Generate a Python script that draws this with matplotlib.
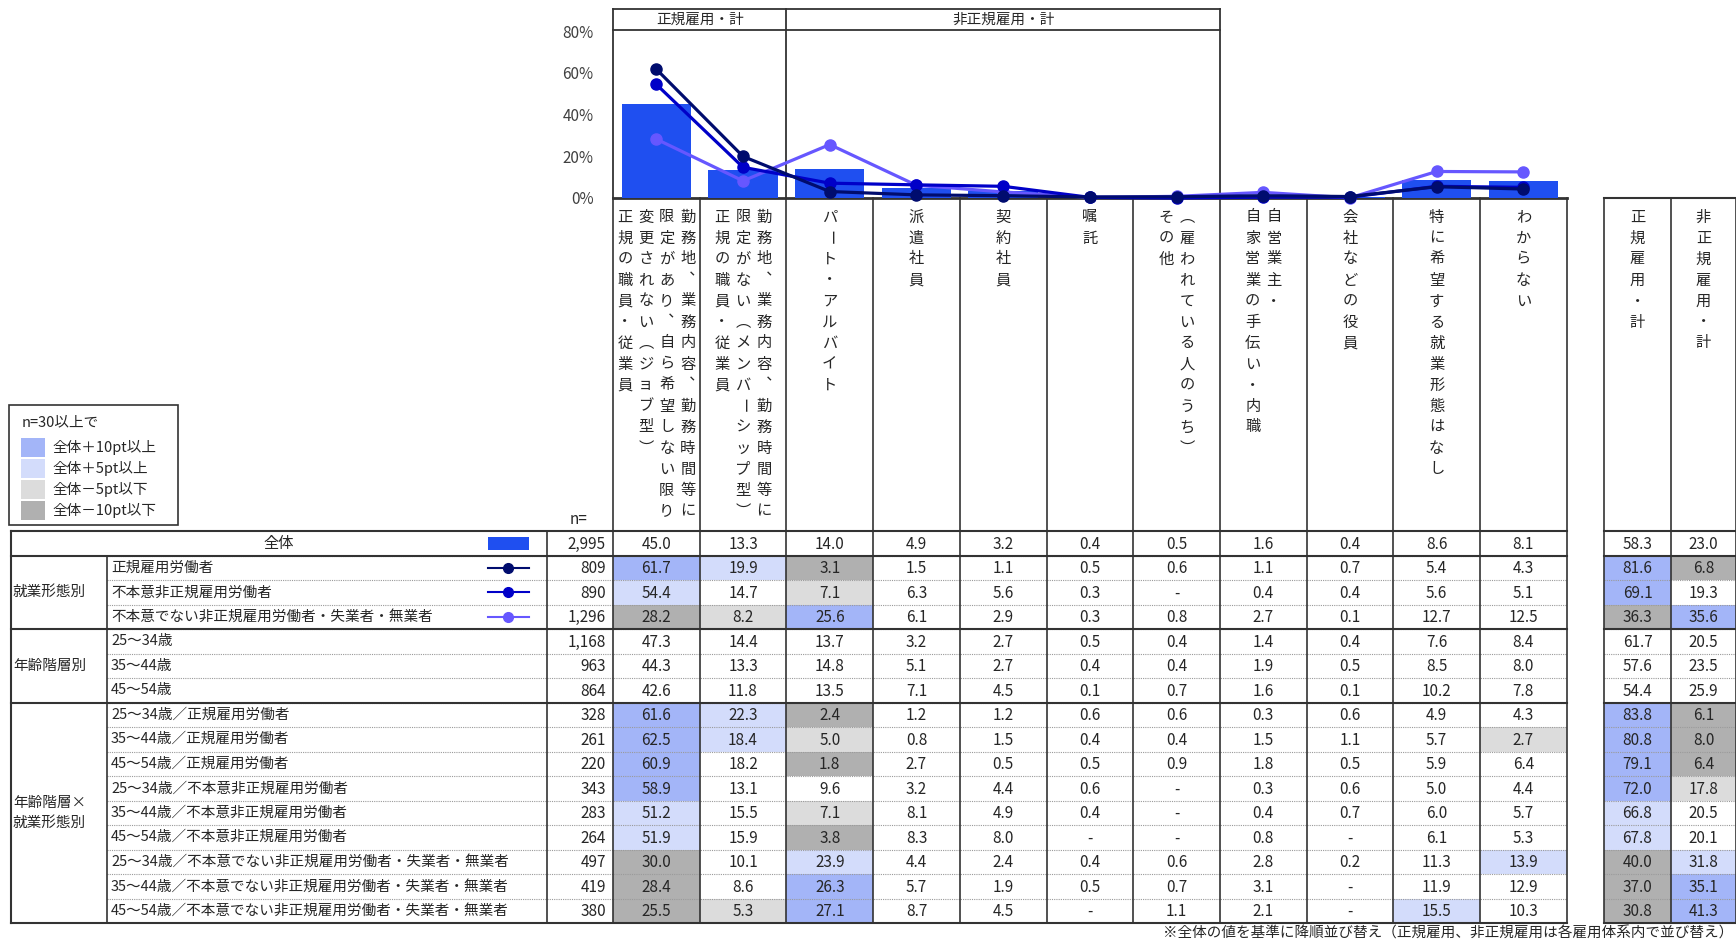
import numpy as np
import matplotlib
matplotlib.use("Agg")
import matplotlib.pyplot as plt
from matplotlib.patches import Rectangle

plt.rcParams["font.family"] = ["Noto Sans CJK JP", "DejaVu Sans"]

# column headers, each a list of vertical text lines (first = rightmost)
headers = [
    ["勤務地、業務内容、勤務時間等に", "限定があり、自ら希望しない限り", "変更されない（ジョブ型）", "正規の職員・従業員"],
    ["勤務地、業務内容、勤務時間等に", "限定がない（メンバーシップ型）", "正規の職員・従業員"],
    ["パート・アルバイト"],
    ["派遣社員"],
    ["契約社員"],
    ["嘱託"],
    ["（雇われている人のうち）", "その他"],
    ["自営業主・", "自家営業の手伝い・内職"],
    ["会社などの役員"],
    ["特に希望する就業形態はなし"],
    ["わからない"],
]
total_headers = [["正規雇用・計"], ["非正規雇用・計"]]

groups = [("就業形態別", 3), ("年齢階層別", 3), ("年齢階層×\n就業形態別", 9)]
row_labels = [
    "全体",
    "正規雇用労働者",
    "不本意非正規雇用労働者",
    "不本意でない非正規雇用労働者・失業者・無業者",
    "25～34歳",
    "35～44歳",
    "45～54歳",
    "25～34歳／正規雇用労働者",
    "35～44歳／正規雇用労働者",
    "45～54歳／正規雇用労働者",
    "25～34歳／不本意非正規雇用労働者",
    "35～44歳／不本意非正規雇用労働者",
    "45～54歳／不本意非正規雇用労働者",
    "25～34歳／不本意でない非正規雇用労働者・失業者・無業者",
    "35～44歳／不本意でない非正規雇用労働者・失業者・無業者",
    "45～54歳／不本意でない非正規雇用労働者・失業者・無業者",
]
n_values = [2995, 809, 890, 1296, 1168, 963, 864, 328, 261, 220, 343, 283, 264, 497, 419, 380]

# % values, 0 is shown as "-"
values = [
    [45.0, 13.3, 14.0, 4.9, 3.2, 0.4, 0.5, 1.6, 0.4, 8.6, 8.1],
    [61.7, 19.9, 3.1, 1.5, 1.1, 0.5, 0.6, 1.1, 0.7, 5.4, 4.3],
    [54.4, 14.7, 7.1, 6.3, 5.6, 0.3, 0.0, 0.4, 0.4, 5.6, 5.1],
    [28.2, 8.2, 25.6, 6.1, 2.9, 0.3, 0.8, 2.7, 0.1, 12.7, 12.5],
    [47.3, 14.4, 13.7, 3.2, 2.7, 0.5, 0.4, 1.4, 0.4, 7.6, 8.4],
    [44.3, 13.3, 14.8, 5.1, 2.7, 0.4, 0.4, 1.9, 0.5, 8.5, 8.0],
    [42.6, 11.8, 13.5, 7.1, 4.5, 0.1, 0.7, 1.6, 0.1, 10.2, 7.8],
    [61.6, 22.3, 2.4, 1.2, 1.2, 0.6, 0.6, 0.3, 0.6, 4.9, 4.3],
    [62.5, 18.4, 5.0, 0.8, 1.5, 0.4, 0.4, 1.5, 1.1, 5.7, 2.7],
    [60.9, 18.2, 1.8, 2.7, 0.5, 0.5, 0.9, 1.8, 0.5, 5.9, 6.4],
    [58.9, 13.1, 9.6, 3.2, 4.4, 0.6, 0.0, 0.3, 0.6, 5.0, 4.4],
    [51.2, 15.5, 7.1, 8.1, 4.9, 0.4, 0.0, 0.4, 0.7, 6.0, 5.7],
    [51.9, 15.9, 3.8, 8.3, 8.0, 0.0, 0.0, 0.8, 0.0, 6.1, 5.3],
    [30.0, 10.1, 23.9, 4.4, 2.4, 0.4, 0.6, 2.8, 0.2, 11.3, 13.9],
    [28.4, 8.6, 26.3, 5.7, 1.9, 0.5, 0.7, 3.1, 0.0, 11.9, 12.9],
    [25.5, 5.3, 27.1, 8.7, 4.5, 0.0, 1.1, 2.1, 0.0, 15.5, 10.3],
]
seiki_total = [58.3, 81.6, 69.1, 36.3, 61.7, 57.6, 54.4, 83.8, 80.8, 79.1, 72.0, 66.8, 67.8, 40.0, 37.0, 30.8]
hiseiki_total = [23.0, 6.8, 19.3, 35.6, 20.5, 23.5, 25.9, 6.1, 8.0, 6.4, 17.8, 20.5, 20.1, 31.8, 35.1, 41.3]

bar_color = "#1F4FF0"
line_colors = ["#000C6E", "#0000C8", "#6657FF"]  # rows 1..3
hl_colors = {10: "#A3B5F8", 5: "#D3DCFB", -5: "#DCDCDC", -10: "#B0B0B0"}
legend_items = [(10, "全体＋10pt以上"), (5, "全体＋5pt以上"), (-5, "全体－5pt以下"), (-10, "全体－10pt以下")]

# vertical presentation forms
vert_forms = {"（": "\ufe35", "）": "\ufe36", "、": "\ufe11"}

TXT = "#262626"
LINE = "#333333"
W, H = 1736, 942
fig = plt.figure(figsize=(W / 100, H / 100), dpi=100)

# overlay axes in pixel coordinates for the table
ov = fig.add_axes([0, 0, 1, 1])
ov.set_xlim(0, W)
ov.set_ylim(H, 0)
ov.axis("off")

X0, CW = 613, 86.7
ncols = len(headers)
XR = X0 + ncols * CW
RX = [1604, 1671, 1736]
T0, RH = 531, 24.5
nrows = len(row_labels)
TB = T0 + nrows * RH
CH_TOP, CH_BOT = 31, 198


def vtext(xc, y_top, lines, step=21, fs=11):
    nl = len(lines)
    xs = xc + (np.arange(nl)[::-1] - (nl - 1) / 2) * 21
    for line, x in zip(lines, xs):
        for k, ch in enumerate(line):
            y = y_top + k * step
            rot = -90 if ch in "ー～" else 0
            ov.text(x, y, vert_forms.get(ch, ch), ha="center", va="center", rotation=rot,
                    fontsize=fs, color=TXT)


# chart axes
ax = fig.add_axes([X0 / W, 1 - CH_BOT / H, (XR - X0) / W, (CH_BOT - CH_TOP) / H])
ax.patch.set_alpha(0)
xs = np.arange(ncols)
ax.bar(xs, values[0], width=0.8, color=bar_color, zorder=2)
for i in [2, 1, 0]:
    ax.plot(xs, values[i + 1], color=line_colors[i], lw=2.3, marker="o", ms=8,
            zorder=3 + (2 - i), clip_on=False)
ax.set_xlim(-0.5, ncols - 0.5)
ax.set_ylim(0, 80)
ax.set_yticks([0, 20, 40, 60, 80])
ax.set_yticklabels([f"{v}%" for v in [0, 20, 40, 60, 80]], fontsize=11, color="#404040")
ax.tick_params(axis="y", length=0, pad=14)
ax.set_xticks([])
for s in ax.spines.values():
    s.set_visible(False)

# header box above chart
ov.plot([X0, 1220], [9, 9], color=LINE, lw=1.3)
ov.plot([X0, 1220], [30, 30], color=LINE, lw=1.3)
for x in [X0, X0 + 2 * CW, X0 + 7 * CW]:
    ov.plot([x, x], [9, CH_BOT], color=LINE, lw=1.3)
ov.text((X0 + X0 + 2 * CW) / 2, 20, "正規雇用・計", ha="center", va="center", fontsize=10.5, color=TXT)
ov.text((X0 + 2 * CW + X0 + 7 * CW) / 2, 20, "非正規雇用・計", ha="center", va="center", fontsize=10.5, color=TXT)
ov.plot([X0, XR], [CH_BOT, CH_BOT], color=LINE, lw=2)

# column headers
for c, lines in enumerate(headers):
    vtext(X0 + (c + 0.5) * CW, 217, lines)
for c, lines in enumerate(total_headers):
    vtext((RX[c] + RX[c + 1]) / 2, 217, lines)
ov.plot([RX[0], RX[-1]], [CH_BOT, CH_BOT], color=LINE, lw=1.5)
ov.text(579, 519, "n=", ha="center", va="center", fontsize=11, color=TXT)


def level(diff):
    d = round(diff, 1)
    if d >= 10:
        return 10
    if d >= 5:
        return 5
    if d <= -10:
        return -10
    if d <= -5:
        return -5
    return None


def fmt(v):
    return "-" if v == 0 else f"{v:.1f}"


# cells
for r in range(nrows):
    y0 = T0 + r * RH
    yc = y0 + RH / 2
    for c in range(ncols):
        v = values[r][c]
        lv = level(v - values[0][c]) if r > 0 else None
        if lv is not None:
            ov.add_patch(Rectangle((X0 + c * CW, y0), CW, RH, color=hl_colors[lv], lw=0, zorder=1))
        ov.text(X0 + (c + 0.5) * CW, yc + 1, fmt(v), ha="center", va="center", fontsize=11, color=TXT, zorder=3)
    for k, col in enumerate([seiki_total, hiseiki_total]):
        v = col[r]
        lv = level(v - col[0]) if r > 0 else None
        if lv is not None:
            ov.add_patch(Rectangle((RX[k], y0), RX[k + 1] - RX[k], RH, color=hl_colors[lv], lw=0, zorder=1))
        ov.text((RX[k] + RX[k + 1]) / 2, yc + 1, fmt(v), ha="center", va="center", fontsize=11, color=TXT, zorder=3)
    ov.text(606, yc + 1, f"{n_values[r]:,}", ha="right", va="center", fontsize=11, color=TXT, zorder=3)
    if r == 0:
        ov.text(279, yc, row_labels[r], ha="center", va="center", fontsize=11, color=TXT)
        ov.add_patch(Rectangle((488, yc - 6.5), 41, 13, color=bar_color, lw=0))
    else:
        ov.text(111, yc, row_labels[r], ha="left", va="center", fontsize=10.5, color=TXT)
    if 1 <= r <= 3:
        ov.plot([488, 529], [yc, yc], color=line_colors[r - 1], lw=1.5)
        ov.plot([508], [yc], marker="o", ms=7, color=line_colors[r - 1])
    # dotted separators inside groups
    if r > 0:
        ov.plot([107, XR], [y0, y0], color="#9A9A9A", lw=0.8, ls=(0, (1, 1)), zorder=2)
        ov.plot([RX[0], RX[-1]], [y0, y0], color="#9A9A9A", lw=0.8, ls=(0, (1, 1)), zorder=2)

# group labels and solid separators
solid_rows = [0, 1]
r = 1
for name, cnt in groups:
    ov.text(13, T0 + (r + cnt / 2) * RH, name, ha="left", va="center", fontsize=10.5,
            color=TXT, linespacing=1.5)
    r += cnt
    solid_rows.append(r)
for sr in solid_rows:
    y = T0 + sr * RH
    ov.plot([11, XR], [y, y], color=LINE, lw=1.5, zorder=4)
    ov.plot([RX[0], RX[-1]], [y, y], color=LINE, lw=1.5, zorder=4)

# vertical lines
ov.plot([11, 11], [T0, TB], color=LINE, lw=1.5, zorder=4)
ov.plot([107, 107], [T0 + RH, TB], color=LINE, lw=1.2, zorder=4)
ov.plot([547, 547], [T0, TB], color=LINE, lw=1.2, zorder=4)
for c in range(ncols + 1):
    x = X0 + c * CW
    ov.plot([x, x], [CH_BOT, TB], color=LINE, lw=1.2, zorder=4)
for x in RX:
    ov.plot([x, x], [CH_BOT, TB], color=LINE, lw=1.2, zorder=4)

# legend box
ov.add_patch(Rectangle((9, 405), 169, 120, fill=False, ec=LINE, lw=1.2))
ov.text(22, 422, "n=30以上で", ha="left", va="center", fontsize=10.5, color=TXT)
for k, (lv, lab) in enumerate(legend_items):
    yc = 447 + k * 21
    ov.add_patch(Rectangle((21, yc - 9.5), 24, 19, color=hl_colors[lv], lw=0))
    ov.text(52, yc, lab, ha="left", va="center", fontsize=10.5, color=TXT)

ov.text(1733, 934, "※全体の値を基準に降順並び替え（正規雇用、非正規雇用は各雇用体系内で並び替え）",
        ha="right", va="center", fontsize=10.5, color=TXT)

fig.savefig("out.png", dpi=100)
